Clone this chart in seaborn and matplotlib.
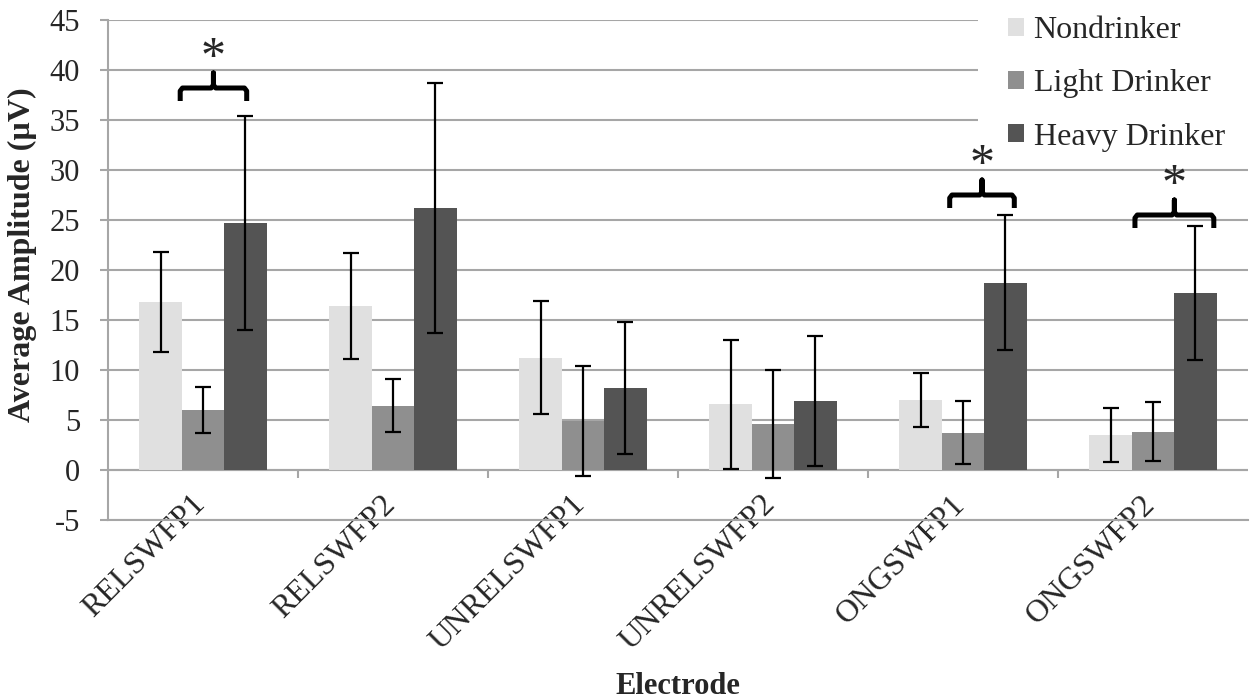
import numpy as np
import pandas as pd
import matplotlib
matplotlib.use("Agg")
import matplotlib.pyplot as plt
import seaborn as sns
from matplotlib.transforms import ScaledTranslation
from matplotlib.patches import Rectangle

# ---------------- data ----------------
electrodes = ["RELSWFP1", "RELSWFP2", "UNRELSWFP1", "UNRELSWFP2", "ONGSWFP1", "ONGSWFP2"]
groups = ["Nondrinker", "Light Drinker", "Heavy Drinker"]
nondrinker = [16.8, 16.4, 11.25, 6.6, 7.0, 3.5]
light_drinker = [6.0, 6.45, 4.9, 4.6, 3.75, 3.85]
heavy_drinker = [24.7, 26.2, 8.2, 6.9, 18.75, 17.7]
nondrinker_err = [5.0, 5.3, 5.65, 6.45, 2.7, 2.7]
light_drinker_err = [2.3, 2.65, 5.5, 5.4, 3.15, 2.95]
heavy_drinker_err = [10.7, 12.5, 6.6, 6.5, 6.75, 6.7]
colors = ["#e0e0e0", "#8f8f8f", "#545454"]

# significance braces: category index, x-span relative to category, brace height
sig_cats = [0, 4, 5]
sig_x0 = [-0.12, -0.07, -0.095]
sig_x1 = [0.23, 0.27, 0.32]
sig_y = [38.2, 27.5, 25.5]

df = pd.DataFrame({
    "Electrode": electrodes * 3,
    "Amplitude": nondrinker + light_drinker + heavy_drinker,
    "Group": [g for g in groups for _ in electrodes],
})
errs = [nondrinker_err, light_drinker_err, heavy_drinker_err]

# ---------------- figure ----------------
sns.set_style("white")
plt.rcParams["font.family"] = ["Liberation Serif", "DejaVu Serif"]
plt.rcParams["axes.unicode_minus"] = False
grid_c = "#a6a6a6"

fig = plt.figure(figsize=(12.51, 7.0), dpi=100)
ax = fig.add_axes([108 / 1251, 1 - 520 / 700, (1248 - 108) / 1251, 500 / 700])

sns.barplot(data=df, x="Electrode", y="Amplitude", hue="Group", order=electrodes,
            hue_order=groups, palette=colors, width=0.67, gap=0, saturation=1,
            errorbar=None, ax=ax, linewidth=0, zorder=2)

for cont, e in zip(ax.containers, errs):
    xs = [p.get_x() + p.get_width() / 2 for p in cont.patches]
    ys = [p.get_height() for p in cont.patches]
    ax.errorbar(xs, ys, yerr=e, fmt="none", ecolor="black", elinewidth=1.6,
                capsize=5.5, capthick=1.6, zorder=3)

ax.set_xlim(-0.5, len(electrodes) - 0.5)
ax.set_ylim(-5, 45)
ax.set_yticks(np.arange(-5, 46, 5))
ax.yaxis.grid(True, color=grid_c, lw=1.5)
ax.set_axisbelow(True)
ax.tick_params(axis="y", length=6, width=1.5, color=grid_c, labelsize=22, pad=14, left=True)
ax.tick_params(axis="x", length=0, labelsize=23, pad=0)
for s in ["top", "right"]:
    ax.spines[s].set_visible(False)
for s in ["left", "bottom"]:
    ax.spines[s].set_color(grid_c)
    ax.spines[s].set_linewidth(1.5)
ax.axhline(0, color=grid_c, lw=1.5, zorder=1)
ax.vlines(np.arange(1, len(electrodes)) - 0.5, -0.8, 0, color=grid_c, lw=1.5, zorder=1)

ax.set_xticks(range(len(electrodes)))
ax.set_xticklabels(electrodes, rotation=45, ha="right", va="center", rotation_mode="anchor")
off = ScaledTranslation(-2 / 100, 20 / 100, fig.dpi_scale_trans)
for lab in ax.get_xticklabels():
    lab.set_transform(lab.get_transform() + off)

ax.set_xlabel("Electrode", fontsize=22, fontweight="bold")
ax.xaxis.label.set_va("baseline")
ax.xaxis.set_label_coords(0.5, -0.348)
ax.set_ylabel("Average Amplitude (\u00b5V)", fontsize=23, fontweight="bold")
ax.yaxis.set_label_coords(-0.062, 0.53)

# significance braces
for c, x0, x1, h in zip(sig_cats, sig_x0, sig_x1, sig_y):
    a, b = c + x0, c + x1
    xc = (a + b) / 2
    r = 0.012
    xs = [a, a, a + r, xc - r, xc, xc, xc, xc + r, b - r, b, b]
    ys = [h - 1.3, h - 0.3, h, h, h + 0.3, h + 1.5, h + 0.3, h, h, h - 0.3, h - 1.3]
    ax.plot(xs, ys, color="black", lw=3.6, solid_joinstyle="round", solid_capstyle="butt",
            zorder=4, clip_on=False)
    ax.text(xc, h + 2.9, "*", ha="center", va="center", fontsize=36, zorder=4)

# white legend area hiding the gridlines behind it
ax.add_patch(Rectangle((0.763, 0.745), 0.3, 0.3, transform=ax.transAxes, facecolor="white",
                       edgecolor="none", zorder=1.5, clip_on=False))

leg = ax.legend(loc="upper left", bbox_to_anchor=(1008 / 1251, 1 - 16 / 700),
                bbox_transform=fig.transFigure, fontsize=23, frameon=False,
                handlelength=0.5, handleheight=0.5, handletextpad=0.3, labelspacing=0.76,
                borderpad=0, borderaxespad=0, title=None)
leg.set_zorder(5)

fig.savefig("out.png", dpi=100)
